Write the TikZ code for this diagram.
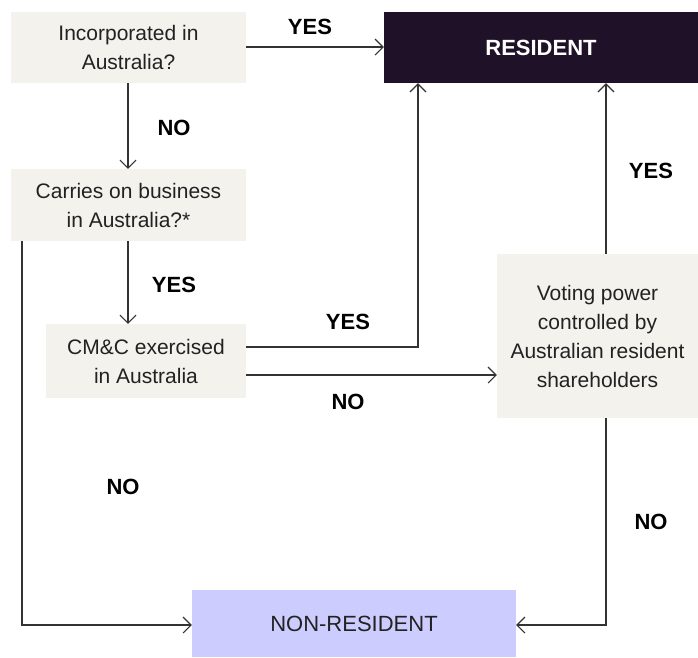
\documentclass[tikz,border=0pt]{standalone}
\usepackage{fontspec}
\setmainfont{Liberation Sans}
\usetikzlibrary{arrows.meta}
\definecolor{beige}{HTML}{F3F2EC}
\definecolor{darkres}{HTML}{1E1128}
\definecolor{lav}{HTML}{CCCCFF}
\definecolor{ink}{HTML}{222222}
\definecolor{linec}{HTML}{333333}
\begin{document}
\begin{tikzpicture}[x=1pt,y=-1pt,
  box/.style={rectangle, fill=beige, inner sep=0pt, align=center, text=ink,
    font=\fontsize{21}{29}\selectfont},
  lbl/.style={font=\bfseries\fontsize{22}{24}\selectfont, text=black},
  conn/.style={draw=linec, line width=1.2pt, -{Straight Barb[length=8pt,width=16pt,line width=1.1pt]}}]
\useasboundingbox (0,0) rectangle (698,657);
\node[box, minimum width=235pt, minimum height=71pt] (inc) at (128.5,47.5) {Incorporated in\\Australia?};
\node[box, minimum width=235pt, minimum height=72pt] (cob) at (128.5,205) {Carries on business\\in Australia?*};
\node[rectangle, fill=darkres, text=white, inner sep=0pt, minimum width=314pt, minimum height=71pt,
  font=\bfseries\fontsize{22}{24}\selectfont] (res) at (541,47.5) {RESIDENT};
\node[box, minimum width=200pt, minimum height=74pt] (cmc) at (146,361) {CM\&C exercised\\in Australia};
\node[box, minimum width=201pt, minimum height=164pt] (vot) at (597.5,336) {Voting power\\controlled by\\Australian resident\\shareholders};
\node[rectangle, fill=lav, text=ink, inner sep=0pt, minimum width=324pt, minimum height=67pt,
  font=\fontsize{22}{24}\selectfont] (non) at (354,623.5) {NON-RESIDENT};
% connectors
\coordinate (c1) at (418,347);
\coordinate (c2) at (606,625);
\coordinate (c3) at (22,625);
\draw[conn] (inc.east |- 0,47) -- (res.west |- 0,47);
\draw[conn] (inc.south -| 128,0) -- (cob.north -| 128,0);
\draw[conn] (cob.south -| 128,0) -- (cmc.north -| 128,0);
\draw[conn] (cmc.east |- c1) -- (c1) -- (res.south -| c1);
\draw[conn] (cmc.east |- 0,375) -- (vot.west |- 0,375);
\draw[conn] (vot.north -| c2) -- (res.south -| c2);
\draw[conn] (vot.south -| c2) -- (c2) -- (non.east |- c2);
\draw[conn] (cob.south -| c3) -- (c3) -- (non.west |- c3);
% labels
\node[lbl] (l1) at (310,27) {YES};
\node[lbl] (l2) at (174,128) {NO};
\node[lbl] (l3) at (174,285) {YES};
\node[lbl] (l4) at (348,322) {YES};
\node[lbl] (l5) at (348,402) {NO};
\node[lbl] (l6) at (123,487) {NO};
\node[lbl] (l7) at (651,171) {YES};
\node[lbl] (l8) at (651,522) {NO};
\end{tikzpicture}
\end{document}
